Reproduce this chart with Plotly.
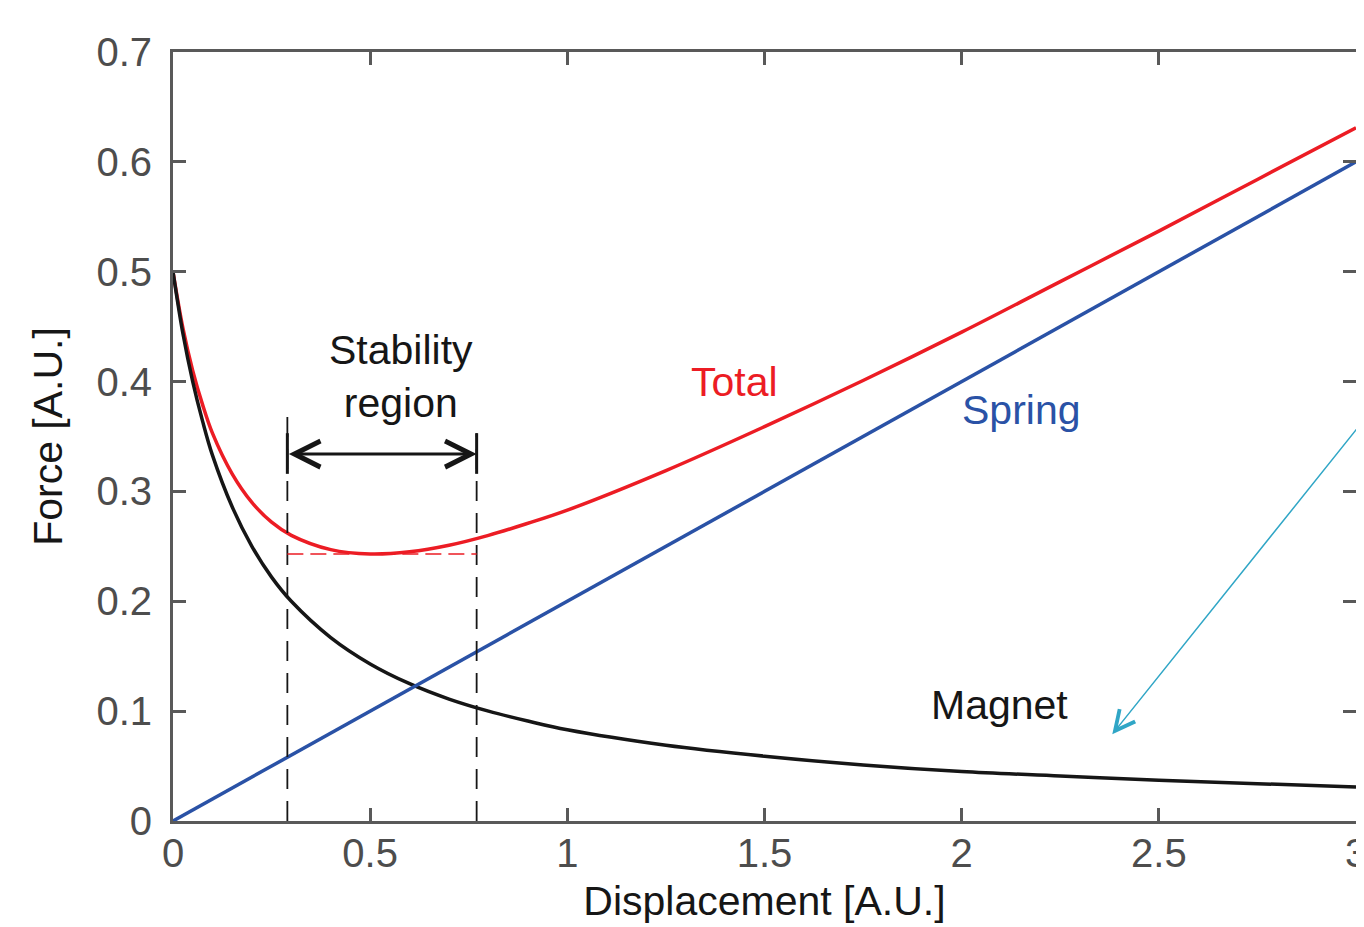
import plotly.graph_objects as go

# Data
disp = [0, 0.025, 0.05, 0.075, 0.1, 0.15, 0.2, 0.25, 0.3, 0.4, 0.5, 0.6, 0.7, 0.8, 0.9,
        1.0, 1.25, 1.5, 1.75, 2.0, 2.25, 2.5, 2.75, 3.0]
magnet = [0.500, 0.444, 0.400, 0.364, 0.333, 0.286, 0.250, 0.222, 0.200, 0.167, 0.143,
          0.125, 0.111, 0.100, 0.091, 0.083, 0.069, 0.059, 0.051, 0.045, 0.041, 0.037,
          0.034, 0.031]
total = [0.500, 0.449, 0.410, 0.379, 0.353, 0.316, 0.290, 0.272, 0.260, 0.247, 0.243,
         0.245, 0.251, 0.260, 0.271, 0.283, 0.319, 0.359, 0.401, 0.445, 0.491, 0.537,
         0.584, 0.631]
spring_x = [0, 3]
spring_y = [0, 0.6]

stab_lo, stab_hi = 0.29, 0.77
stab_min_force = 0.243
left_dash_top, right_dash_top = 0.375, 0.353
bar_lo, bar_hi = 0.316, 0.353
arrow_y = 0.334

xticks = [0, 0.5, 1, 1.5, 2, 2.5, 3]
xticklabels = ["0", "0.5", "1", "1.5", "2", "2.5", "3"]
yticks = [0, 0.1, 0.2, 0.3, 0.4, 0.5, 0.6, 0.7]
yticklabels = ["0", "0.1", "0.2", "0.3", "0.4", "0.5", "0.6", "0.7"]

RED = "#ec1c24"
BLUE = "#2a52a6"
BLACK = "#161616"
AX = "#595959"
FONT = "Liberation Sans, Arial, Helvetica, sans-serif"

fig = go.Figure()
fig.add_trace(go.Scatter(x=disp, y=total, mode="lines",
                         line=dict(color=RED, width=3.5, shape="spline", smoothing=1),
                         showlegend=False))
fig.add_trace(go.Scatter(x=disp, y=magnet, mode="lines",
                         line=dict(color=BLACK, width=3.5, shape="spline", smoothing=1),
                         showlegend=False))
fig.add_trace(go.Scatter(x=spring_x, y=spring_y, mode="lines",
                         line=dict(color=BLUE, width=3.5), showlegend=False))

shapes = [
    dict(type="line", x0=stab_lo, x1=stab_lo, y0=0, y1=left_dash_top, xref="x", yref="y",
         line=dict(color=BLACK, width=1.8, dash="20px,12px")),
    dict(type="line", x0=stab_hi, x1=stab_hi, y0=0, y1=right_dash_top, xref="x", yref="y",
         line=dict(color=BLACK, width=1.8, dash="20px,12px")),
    dict(type="line", x0=stab_lo, x1=stab_hi, y0=stab_min_force, y1=stab_min_force,
         xref="x", yref="y", line=dict(color=RED, width=1.4, dash="16px,7px")),
    dict(type="line", x0=stab_lo, x1=stab_lo, y0=bar_lo, y1=bar_hi, xref="x", yref="y",
         line=dict(color=BLACK, width=3)),
    dict(type="line", x0=stab_hi, x1=stab_hi, y0=bar_lo, y1=bar_hi, xref="x", yref="y",
         line=dict(color=BLACK, width=3)),
]

TXT = 41
annotations = [
    dict(x=stab_hi, y=arrow_y, ax=stab_lo, ay=arrow_y, xref="x", yref="y",
         axref="x", ayref="y", text="", showarrow=True, arrowside="end+start",
         arrowhead=5, startarrowhead=5, arrowsize=1.7, startarrowsize=1.7,
         arrowwidth=3, arrowcolor=BLACK, standoff=0, startstandoff=0),
    dict(x=2.382, y=0.079, ax=3.058, ay=0.382, xref="x", yref="y", axref="x", ayref="y",
         text="", showarrow=True, arrowhead=5, arrowsize=2.6, arrowwidth=1.5,
         arrowcolor="#30a6c6", standoff=0),
    dict(x=0.577, y=0.405, text="Stability<br>region", showarrow=False,
         font=dict(family=FONT, size=TXT, color=BLACK), xref="x", yref="y"),
    dict(x=1.425, y=0.400, text="Total", showarrow=False,
         font=dict(family=FONT, size=TXT, color=RED), xref="x", yref="y"),
    dict(x=2.152, y=0.3745, text="Spring", showarrow=False,
         font=dict(family=FONT, size=TXT, color=BLUE), xref="x", yref="y"),
    dict(x=2.096, y=0.1055, text="Magnet", showarrow=False,
         font=dict(family=FONT, size=TXT, color=BLACK), xref="x", yref="y"),
]

axis_common = dict(showgrid=False, zeroline=False, showline=True, linecolor=AX,
                   linewidth=3, mirror="allticks", ticks="inside", ticklen=13,
                   tickwidth=3, tickcolor=AX, automargin=False,
                   tickfont=dict(family=FONT, size=40, color="#4d4d4d"))

fig.update_layout(
    width=1364, height=927,
    margin=dict(l=165, r=16, t=44, b=114),
    paper_bgcolor="white", plot_bgcolor="white",
    font=dict(family=FONT),
    shapes=shapes, annotations=annotations,
    xaxis=dict(range=[0, 3], tickvals=xticks, ticktext=xticklabels,
               ticklabelstandoff=-5,
               title=dict(text="Displacement [A.U.]", standoff=13,
                          font=dict(family=FONT, size=TXT, color=BLACK)),
               **axis_common),
    yaxis=dict(range=[0, 0.7], tickvals=yticks, ticktext=yticklabels,
               ticklabelstandoff=10,
               title=dict(text="Force [A.U.]", standoff=22,
                          font=dict(family=FONT, size=TXT, color=BLACK)),
               **axis_common),
)

fig.write_html("out.html")
